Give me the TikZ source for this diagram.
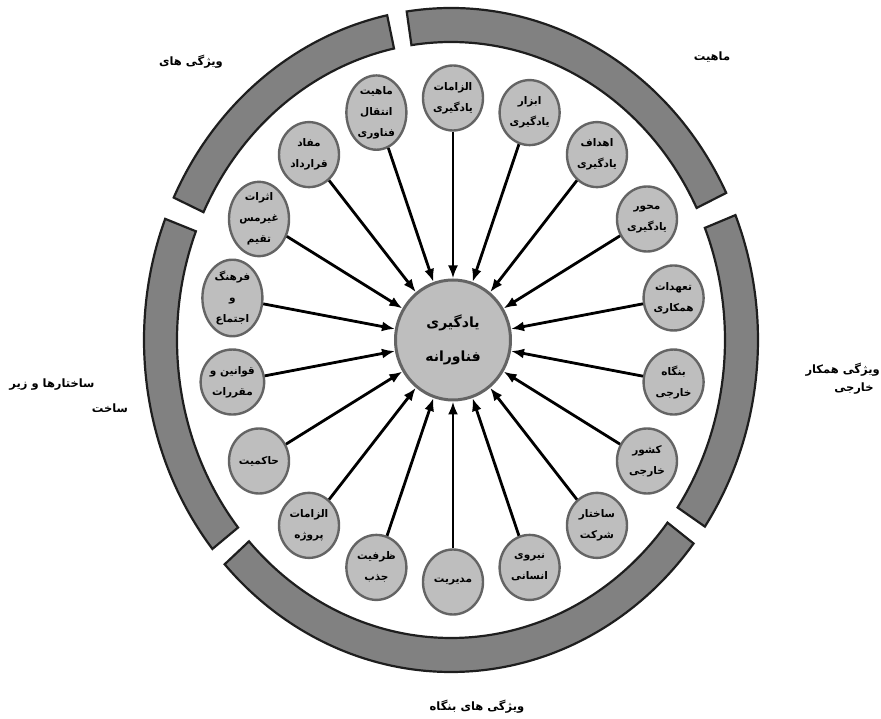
\documentclass[tikz,border=0pt]{standalone}
\usepackage{fontspec}
\newfontfamily\arabicfont[Script=Arabic]{DejaVu Sans}
\TeXXeTstate=1
\usetikzlibrary{arrows.meta,shapes.geometric}
\newcommand{\fa}[1]{\beginR #1\endR}
\definecolor{nodefill}{HTML}{BEBEBE}
\definecolor{nodeedge}{HTML}{646464}
\definecolor{ringfill}{HTML}{818181}
\definecolor{ringedge}{HTML}{1E1E1E}
\newcommand{\ringseg}[2]{\draw[seg] (#1:307pt and 332pt) arc[start angle=#1, end angle=#2, x radius=307pt, y radius=332pt] -- (#2:274pt and 298pt) arc[start angle=#2, end angle=#1, x radius=274pt, y radius=298pt] -- cycle;}
\begin{document}
\begin{tikzpicture}[x=1pt,y=1pt,
  sat/.style={ellipse, draw=nodeedge, line width=2.4pt, fill=nodefill, minimum width=60pt, minimum height=65pt, inner sep=0pt, font=\arabicfont\bfseries\fontsize{10.5}{21}\selectfont, align=center},
  hub/.style={ellipse, draw=nodeedge, line width=3pt, fill=nodefill, minimum width=115pt, minimum height=120pt, inner sep=0pt, font=\arabicfont\bfseries\fontsize{14}{34}\selectfont, align=center},
  arr/.style={line width=2.8pt, -{Latex[length=13pt,width=10pt]}},
  seg/.style={fill=ringfill, draw=ringedge, line width=2.2pt},
  lbl/.style={font=\arabicfont\bfseries\fontsize{11.5}{18}\selectfont, align=center, inner sep=0pt}]
\useasboundingbox (-453,-379) rectangle (428,340);
\begin{scope}[shift={(-2,0)}]
\ringseg{-34.2}{22.1}
\ringseg{26.3}{98.3}
\ringseg{102}{154.6}
\ringseg{158.6}{219}
\ringseg{222.5}{322.2}
\end{scope}
\node[hub] (hub) at (0,0) {\fa{یادگیری}\\\fa{فناورانه}};
\node[sat] (n0) at (90:224pt and 242pt) {\fa{الزامات}\\\fa{یادگیری}};
\node[sat] (n1) at (70:224pt and 242pt) {\fa{ابزار}\\\fa{یادگیری}};
\node[sat] (n2) at (50:224pt and 242pt) {\fa{اهداف}\\\fa{یادگیری}};
\node[sat] (n3) at (30:224pt and 242pt) {\fa{محور}\\\fa{یادگیری}};
\node[sat] (n4) at (10:224pt and 242pt) {\fa{تعهدات}\\\fa{همکاری}};
\node[sat] (n5) at (-10:224pt and 242pt) {\fa{بنگاه}\\\fa{خارجی}};
\node[sat] (n6) at (-30:224pt and 242pt) {\fa{کشور}\\\fa{خارجی}};
\node[sat] (n7) at (-50:224pt and 242pt) {\fa{ساختار}\\\fa{شرکت}};
\node[sat] (n8) at (-70:224pt and 242pt) {\fa{نیروی}\\\fa{انسانی}};
\node[sat] (n9) at (-90:224pt and 242pt) {\fa{مدیریت}};
\node[sat] (n10) at (-110:224pt and 242pt) {\fa{ظرفیت}\\\fa{جذب}};
\node[sat] (n11) at (-130:224pt and 242pt) {\fa{الزامات}\\\fa{پروژه}};
\node[sat] (n12) at (-150:224pt and 242pt) {\fa{حاکمیت}};
\node[sat] (n13) at (-170:224pt and 242pt) {\fa{قوانین و}\\\fa{مقررات}};
\node[sat] (n14) at (170:224pt and 242pt) {\fa{فرهنگ}\\\fa{و}\\\fa{اجتماع}};
\node[sat] (n15) at (150:224pt and 242pt) {\fa{اثرات}\\\fa{غیرمس}\\\fa{تقیم}};
\node[sat] (n16) at (130:224pt and 242pt) {\fa{مفاد}\\\fa{قرارداد}};
\node[sat] (n17) at (110:224pt and 242pt) {\fa{ماهیت}\\\fa{انتقال}\\\fa{فناوری}};
\foreach \i in {0,...,17} \draw[arr] (n\i) -- (hub);
\node[lbl] (l1) at (-262,278) {\fa{ویژگی های}};
\node[lbl] (l2) at (259,283) {\fa{ماهیت}};
\node[lbl, anchor=east] (l3a) at (427,-30) {\fa{ویژگی همکار}};
\node[lbl] (l3b) at (401,-49) {\fa{خارجی}};
\node[lbl] (l4a) at (-401,-45) {\fa{ساختارها و زیر}};
\node[lbl] (l4b) at (-343,-68) {\fa{ساخت}};
\node[lbl] (l5) at (24,-367) {\fa{ویژگی های بنگاه}};
\end{tikzpicture}
\end{document}
